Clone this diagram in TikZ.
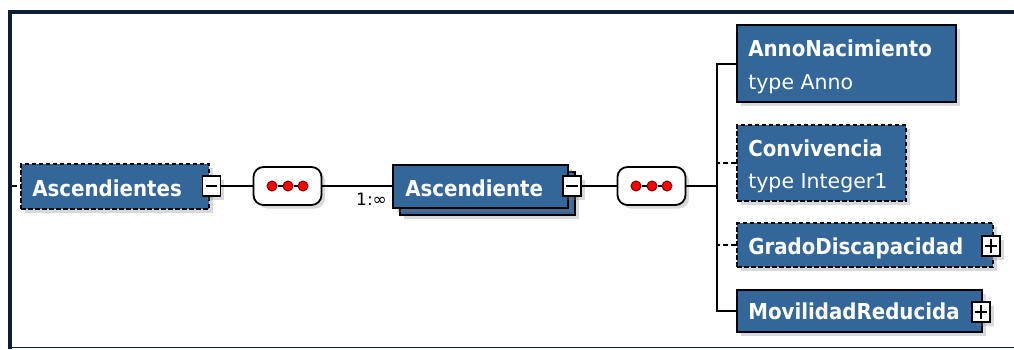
\documentclass[tikz,border=0pt]{standalone}
\usepackage{fontspec}
\setmainfont{DejaVu Sans}
\newfontfamily\dvb[FakeStretch=0.9]{DejaVu Sans}
\usetikzlibrary{shadows,calc}
\definecolor{boxblue}{HTML}{336699}
\definecolor{framec}{HTML}{0B1F33}
\tikzset{
  shadowed/.style={drop shadow={shadow xshift=3.5pt,shadow yshift=-3.5pt,opacity=0.3}},
  elem/.style={draw=black, fill=boxblue, line width=1.8pt, inner sep=0pt, shadowed},
  optelem/.style={elem, dash pattern=on 4.5pt off 2.5pt},
  pm/.style={draw=black, fill=white, line width=1.5pt, inner sep=0pt, minimum width=18pt, minimum height=20pt, shadowed},
  pmbar/.style={line width=2pt},
  seqbox/.style={draw=black, fill=white, line width=1.8pt, rounded corners=10pt, inner sep=0pt, minimum width=68pt, minimum height=38pt, shadowed},
  dot/.style={circle, draw=black!50!red, fill=red, line width=1pt, inner sep=0pt, minimum size=10pt},
  conn/.style={draw=black, line width=2pt},
  optconn/.style={conn, dash pattern=on 5pt off 3pt},
  boldtxt/.style={text=white, font=\dvb\bfseries\fontsize{22}{26}\selectfont, inner sep=0pt, anchor=base west},
  regtxt/.style={text=white, font=\fontsize{20.5}{24}\selectfont, inner sep=0pt, anchor=base west},
  multtxt/.style={text=black, font=\fontsize{17}{20}\selectfont, inner sep=0pt, anchor=base east}
}
\begin{document}
\begin{tikzpicture}[x=1pt,y=-1pt]
\useasboundingbox (0,0) rectangle (1014,349);
% frame
\fill[framec] (8,10) rectangle (1014,14);
\fill[framec] (8,10) rectangle (12,349);
\draw[framec, line width=1.2pt] (12,347.5) -- (1014,347.5);

% left element
\coordinate (lstub) at (12,186);
\node[optelem, minimum width=188pt, minimum height=45pt] (asc) at (115,186.5) {};
\node[boldtxt] (asct) at ($(asc.west)+(12,9.5)$) {Ascendientes};
\node[pm] (ascm) at (211.5,186) {};
\draw[pmbar] ($(ascm.west)+(4,0)$) -- ($(ascm.east)+(-4,0)$);

% first sequence
\node[seqbox] (seq1) at (287.5,186) {};
\node[dot] (d1) at (272,186) {};
\node[dot] (d2) at (288,186) {};
\node[dot] (d3) at (303,186) {};
\draw[line width=2pt] (d1) -- (d2) -- (d3);

% Ascendiente (stacked)
\node[elem, minimum width=175pt, minimum height=43pt] (ascdb) at (487.5,193.5) {};
\node[elem, minimum width=175pt, minimum height=43pt] (ascd) at (480.5,186.5) {};
\node[boldtxt] (ascdt) at ($(ascd.west)+(13,9.5)$) {Ascendiente};
\node[pm] (ascdm) at (572,186) {};
\draw[pmbar] ($(ascdm.west)+(4,0)$) -- ($(ascdm.east)+(-4,0)$);
\node[multtxt] (mult) at ($(ascd.west)+(-5,19)$) {1:∞};

% second sequence
\node[seqbox] (seq2) at (651.5,186) {};
\node[dot] (e1) at (636,186) {};
\node[dot] (e2) at (652,186) {};
\node[dot] (e3) at (667,186) {};
\draw[line width=2pt] (e1) -- (e2) -- (e3);

% children
\node[elem, minimum width=219pt, minimum height=77pt] (anno) at (846.5,63.5) {};
\node[boldtxt] (annot) at ($(anno.north west)+(12,32)$) {AnnoNacimiento};
\node[regtxt] (annoty) at ($(anno.north west)+(12,65)$) {type Anno};

\node[optelem, minimum width=169pt, minimum height=76pt] (conv) at (821.5,163) {};
\node[boldtxt] (convt) at ($(conv.north west)+(12,32)$) {Convivencia};
\node[regtxt] (convty) at ($(conv.north west)+(12,64)$) {type Integer1};

\node[optelem, minimum width=256pt, minimum height=44pt] (grado) at (865,245) {};
\node[boldtxt] (gradot) at ($(grado.west)+(12,9)$) {GradoDiscapacidad};
\node[pm] (gradop) at (991,246) {};
\draw[pmbar] ($(gradop.west)+(4,0)$) -- ($(gradop.east)+(-4,0)$);
\draw[pmbar] ($(gradop.north)+(0,4)$) -- ($(gradop.south)+(0,-4)$);

\node[elem, minimum width=245pt, minimum height=42pt] (movil) at (859.5,311) {};
\node[boldtxt] (movilt) at ($(movil.west)+(12,8.5)$) {MovilidadReducida};
\node[pm] (movilp) at (981,312) {};
\draw[pmbar] ($(movilp.west)+(4,0)$) -- ($(movilp.east)+(-4,0)$);
\draw[pmbar] ($(movilp.north)+(0,4)$) -- ($(movilp.south)+(0,-4)$);

% connectors
\coordinate (bus) at (717,186);
\draw[optconn] (lstub) -- (asc.west |- lstub);
\draw[conn] (ascm.east) -- (seq1.west);
\draw[conn] (seq1.east) -- (ascd.west |- seq1.east);
\draw[conn] (ascdm.east) -- (seq2.west);
\draw[conn] (seq2.east) -- (bus);
\draw[conn] (anno.west) -| (bus) |- (movil.west);
\draw[optconn] (conv.west) -- (conv.west -| bus);
\draw[optconn] (grado.west) -- (grado.west -| bus);
\end{tikzpicture}
\end{document}
